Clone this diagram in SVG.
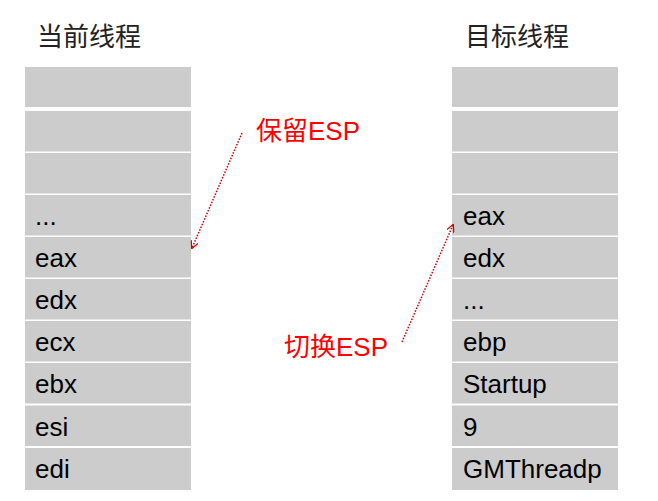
<svg xmlns="http://www.w3.org/2000/svg" width="658" height="501" viewBox="0 0 658 501">
<style>
.cell{fill:#cccccc}
.t{font-family:"Liberation Sans",Arial,sans-serif;font-size:26px;fill:#000}
.h{font-family:"Noto Sans CJK SC",sans-serif;font-size:26px;fill:#222}
.r{font-family:"Liberation Sans","Noto Sans CJK SC",sans-serif;font-size:26px;fill:#ff0000}
.a{stroke:#cc0000;stroke-width:1.5;stroke-dasharray:1.5 1.5;fill:none}
</style>
<defs>
<marker id="ah" viewBox="0 0 10 10" refX="9" refY="5" markerWidth="8" markerHeight="8" orient="auto" markerUnits="userSpaceOnUse">
<path d="M0,0 L10,5 L0,10" fill="none" stroke="#cc0000" stroke-width="1.5"/>
</marker>
</defs>
<rect width="658" height="501" fill="#fff"/>
<text class="h" x="37" y="46">当前线程</text>
<text class="h" x="465" y="46">目标线程</text>
<g id="current">
<rect class="cell" x="25" y="67" width="166" height="40"/>
<rect class="cell" x="25" y="111" width="166" height="40.5"/>
<rect class="cell" x="25" y="153" width="166" height="40.5"/>
<rect class="cell" x="25" y="195" width="166" height="40.5"/>
<rect class="cell" x="25" y="237" width="166" height="40.5"/>
<rect class="cell" x="25" y="279" width="166" height="40.5"/>
<rect class="cell" x="25" y="321" width="166" height="40.5"/>
<rect class="cell" x="25" y="363" width="166" height="40.5"/>
<rect class="cell" x="25" y="405.5" width="166" height="40.5"/>
<rect class="cell" x="25" y="448" width="166" height="42"/>
<text class="t" x="35" y="225">...</text>
<text class="t" x="35" y="267">eax</text>
<text class="t" x="35" y="309">edx</text>
<text class="t" x="35" y="351">ecx</text>
<text class="t" x="35" y="393">ebx</text>
<text class="t" x="35" y="436">esi</text>
<text class="t" x="35" y="478">edi</text>
</g>
<g id="target">
<rect class="cell" x="452" y="67" width="166" height="40"/>
<rect class="cell" x="452" y="111" width="166" height="40.5"/>
<rect class="cell" x="452" y="153" width="166" height="40.5"/>
<rect class="cell" x="452" y="195" width="166" height="40.5"/>
<rect class="cell" x="452" y="237" width="166" height="40.5"/>
<rect class="cell" x="452" y="279" width="166" height="40.5"/>
<rect class="cell" x="452" y="321" width="166" height="40.5"/>
<rect class="cell" x="452" y="363" width="166" height="40.5"/>
<rect class="cell" x="452" y="405.5" width="166" height="40.5"/>
<rect class="cell" x="452" y="448" width="166" height="42"/>
<text class="t" x="463" y="225">eax</text>
<text class="t" x="463" y="267">edx</text>
<text class="t" x="463" y="309">...</text>
<text class="t" x="463" y="351">ebp</text>
<text class="t" x="463" y="393">Startup</text>
<text class="t" x="463" y="436">9</text>
<text class="t" x="463" y="478">GMThreadp</text>
</g>
<g id="label-save"><text class="r" x="256" y="140">保留ESP</text></g>
<g id="label-switch"><text class="r" x="284" y="356">切换ESP</text></g>
<g id="connectors">
<line class="a" x1="242" y1="133" x2="192" y2="248" marker-end="url(#ah)"/>
<line class="a" x1="402" y1="342" x2="453" y2="225" marker-end="url(#ah)"/>
</g>
</svg>
